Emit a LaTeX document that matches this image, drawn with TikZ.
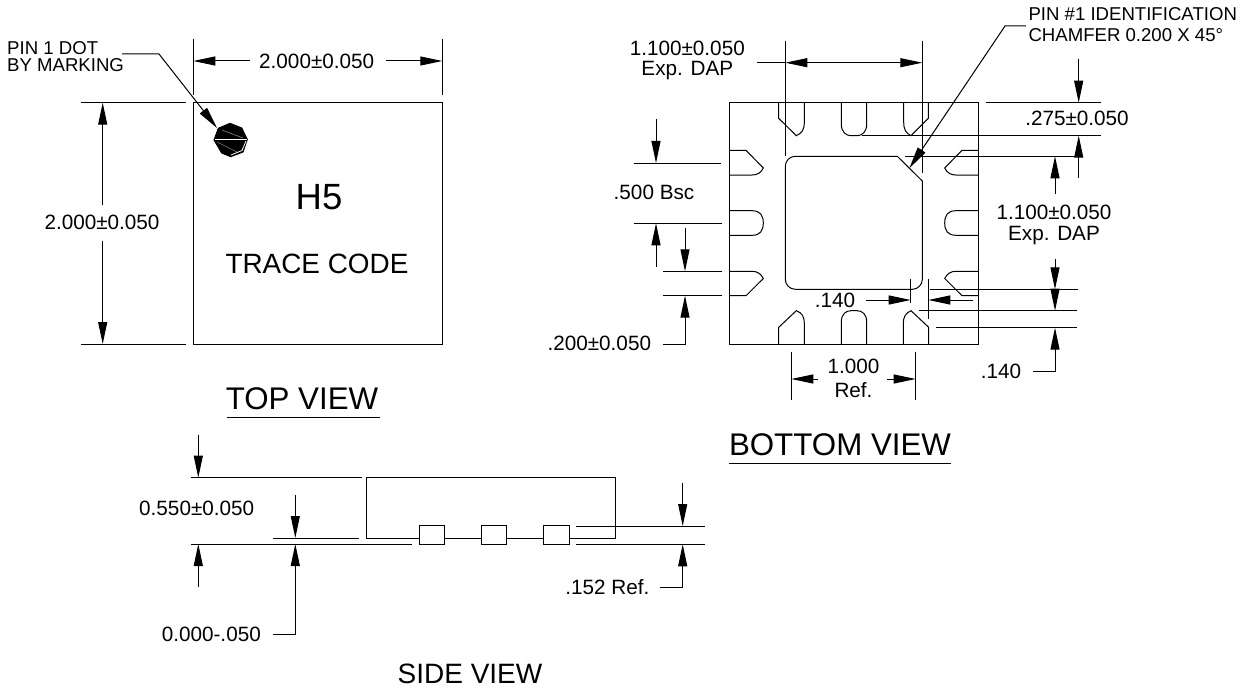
\documentclass[tikz,border=0pt]{standalone}
\usepackage{fontspec}
\setmainfont{Liberation Sans}
\usepackage{tikz}
\usetikzlibrary{arrows.meta}
\tikzstyle{outline}=[draw=black, line width=1pt, line join=miter]
\tikzstyle{dimline}=[draw=black, line width=1pt, >={Triangle[length=22pt, width=9pt]}]
\tikzstyle{dimtext}=[inner sep=0pt, font=\fontsize{20.7}{24}\selectfont, align=center]
\tikzstyle{notetext}=[inner sep=0pt, font=\fontsize{18.6}{17}\selectfont, align=left]
\tikzstyle{marktext}=[inner sep=0pt, font=\fontsize{27.9}{32}\selectfont]
\tikzstyle{viewtext}=[inner sep=0pt, font=\fontsize{31.3}{34}\selectfont]

\begin{document}
\begin{tikzpicture}[x=1pt, y=-1pt]
	\useasboundingbox (0, 0) rectangle (1250, 690);
	\begin{scope}
		\node (tophead) at (316.7, 61)[dimtext] {2.000±0.050};
		\node (topside) at (102, 222)[dimtext] {2.000±0.050};
		\node (pinone) at (7, 56.5)[notetext, anchor=west] {PIN 1 DOT\\BY MARKING};
		\node (mark) at (319, 197)[inner sep=0pt, font=\fontsize{36.5}{38}\selectfont] {H5};
		\node (trace) at (317, 264)[marktext] {TRACE CODE};
		\node (topview) at (302, 399)[viewtext] {TOP VIEW};
		\coordinate (pinend) at (122, 54);
		\coordinate (pinknee) at (159, 54);
		\coordinate (pintip) at (217, 128);
		\draw [outline] (193.3, 102.7) rectangle (442.3, 344);
		\draw [dimline] (193.3, 39) -- (193.3, 95);
		\draw [dimline] (442.3, 39) -- (442.3, 95);
		\draw [dimline, ->] (249.7, 61) -- (193.3, 61);
		\draw [dimline, ->] (386, 61) -- (442.3, 61);
		\draw [dimline] (81, 102.7) -- (185.5, 102.7);
		\draw [dimline] (81, 344) -- (185.5, 344);
		\draw [dimline, ->] (102.7, 204.5) -- (102.7, 102.7);
		\draw [dimline, ->] (102.7, 241) -- (102.7, 344);
		\draw [dimline, ->] (pinend) -- (pinknee) -- (pintip);
		\draw [outline, fill=black] (230, 123.3) -- (241.7, 128) -- (247.3, 139.3) -- (243, 152) -- (230.7, 156.7) -- (221.7, 153) -- (214, 140) -- (218.3, 128.3) -- cycle;
		\draw [white, line width=0.8pt] (214.5, 139.5) -- (247, 139.5);
		\draw [white, line width=0.8pt] (231, 155) -- (242, 150.5) -- (246, 141);
		\draw [white!70!black, line width=0.4pt] (222, 130) -- (243, 138);
		\draw [white!70!black, line width=0.4pt] (217, 142) -- (237, 152);
		\draw [outline] (226.7, 417.7) -- (380, 417.7);
	\end{scope}
	\begin{scope}
		\node (dapleft1) at (687.3, 48)[dimtext] {1.100±0.050};
		\node (dapleft2) at (687.3, 71)[dimtext] {Exp. DAP};
		\node (chamfer) at (1028.3, 24.5)[notetext, anchor=west, font=\fontsize{18.6}{21}\selectfont] {PIN \#1 IDENTIFICATION\\CHAMFER 0.200 X 45°};
		\node (pitch) at (654, 192.7)[dimtext] {.500 Bsc};
		\node (padwide) at (599.3, 343.5)[dimtext] {.200±0.050};
		\node (padlong) at (1077, 118)[dimtext] {.275±0.050};
		\node (dapright1) at (1054, 212)[dimtext] {1.100±0.050};
		\node (dapright2) at (1054, 236)[dimtext] {Exp. DAP};
		\node (gapin) at (835, 300)[dimtext] {.140};
		\node (gapout) at (1001, 371)[dimtext] {.140};
		\node (ref1) at (853.5, 366)[dimtext] {1.000};
		\node (ref2) at (853.5, 390)[dimtext] {Ref.};
		\node (botview) at (840, 445)[viewtext] {BOTTOM VIEW};
		\coordinate (chamend) at (1026, 26);
		\coordinate (chamknee) at (1005, 26);
		\coordinate (chamtip) at (909.3, 168.3);
		\draw [outline] (729.7, 102.7) rectangle (978.3, 344);
		\draw [outline] (778.7, 102.7) -- (778.7, 118.3) -- (796.3, 135.7) .. controls (802, 133) and (804.3, 130) .. (804.3, 122) -- (804.3, 102.7);
		\draw [outline] (841.3, 102.7) -- (841.3, 124) .. controls (841.3, 132) and (846, 135.7) .. (851, 135.7) -- (857, 135.7) .. controls (862, 135.7) and (866.7, 132) .. (866.7, 124) -- (866.7, 102.7);
		\draw [outline] (928.3, 102.7) -- (928.3, 118.3) -- (911, 135.7) .. controls (906, 133) and (903.7, 130) .. (903.7, 122) -- (903.7, 102.7);
		\draw [outline] (778.7, 344) -- (778.7, 327.3) -- (796.3, 310.7) .. controls (802, 313) and (804.3, 316) .. (804.3, 324) -- (804.3, 344);
		\draw [outline] (841.3, 344) -- (841.3, 322) .. controls (841.3, 314) and (846, 310.7) .. (851, 310.7) -- (857, 310.7) .. controls (862, 310.7) and (866.7, 314) .. (866.7, 322) -- (866.7, 344);
		\draw [outline] (928.7, 344) -- (928.7, 327.3) -- (911, 310.7) .. controls (906, 313) and (903.3, 316) .. (903.3, 324) -- (903.3, 344);
		\draw [outline] (729.7, 150.3) -- (746, 150.3) -- (763.3, 168) .. controls (761, 173) and (757, 175) .. (752, 175) -- (729.7, 175);
		\draw [outline] (729.7, 210.7) -- (752, 210.7) .. controls (760, 210.7) and (763.3, 215) .. (763.3, 223) .. controls (763.3, 231) and (760, 235.3) .. (752, 235.3) -- (729.7, 235.3);
		\draw [outline] (729.7, 295.7) -- (746, 295.7) -- (763.3, 278.5) .. controls (761, 273.5) and (757, 271.3) .. (752, 271.3) -- (729.7, 271.3);
		\draw [outline] (978.3, 150.3) -- (962, 150.3) -- (944.7, 168) .. controls (947, 173) and (951, 175) .. (956, 175) -- (978.3, 175);
		\draw [outline] (978.3, 210.7) -- (956, 210.7) .. controls (948, 210.7) and (944.7, 215) .. (944.7, 223) .. controls (944.7, 231) and (948, 235.3) .. (956, 235.3) -- (978.3, 235.3);
		\draw [outline] (978.3, 295.7) -- (962, 295.7) -- (944.7, 278.5) .. controls (947, 273.5) and (951, 271.3) .. (956, 271.3) -- (978.3, 271.3);
		\draw [outline, rounded corners=10pt] (785.3, 225) -- (785.3, 156.3) -- (840, 156.3) [sharp corners] -- (897.3, 156.3) -- (922.3, 181) [rounded corners=10pt] -- (922.3, 289.3) -- (785.3, 289.3) -- (785.3, 225);
		\draw [dimline] (785.3, 41) -- (785.3, 156.3);
		\draw [dimline] (922.3, 41) -- (922.3, 173);
		\draw [dimline, ->] (807.7, 62.7) -- (785.3, 62.7);
		\draw [dimline] (756.7, 62.7) -- (785.3, 62.7);
		\draw [dimline, ->] (807, 62.7) -- (922.3, 62.7);
		\draw [dimline, ->] (chamend) -- (chamknee) -- (chamtip);
		\draw [dimline] (986, 102.7) -- (1101, 102.7);
		\draw [dimline] (861.7, 135.7) -- (1101, 135.7);
		\draw [dimline] (905, 156.3) -- (1082.7, 156.3);
		\draw [dimline, ->] (1078.7, 59.3) -- (1078.7, 102.7);
		\draw [dimline, ->] (1078.7, 178.3) -- (1078.7, 135.7);
		\draw [dimline, ->] (1055, 194) -- (1055, 156.3);
		\draw [dimline, ->] (1055, 259.3) -- (1055, 289.3);
		\draw [dimline, ->] (1055, 289.3) -- (1055, 310.7);
		\draw [dimline, ->] (1033.3, 371) -- (1055, 371) -- (1055, 327.7);
		\draw [dimline] (930, 289.3) -- (1077.7, 289.3);
		\draw [dimline] (918.7, 310.7) -- (1077.3, 310.7);
		\draw [dimline] (936, 327.7) -- (1077.3, 327.7);
		\draw [dimline] (910.7, 279.3) -- (910.7, 303);
		\draw [dimline] (928.3, 279.3) -- (928.3, 319.3);
		\draw [dimline, ->] (866, 300) -- (910.7, 300);
		\draw [dimline, ->] (972.7, 300) -- (928.3, 300);
		\draw [dimline] (791.3, 351.7) -- (791.3, 400);
		\draw [dimline] (915.7, 351.7) -- (915.7, 400);
		\draw [dimline, ->] (817.7, 379) -- (791.3, 379);
		\draw [dimline, ->] (887, 379) -- (915.7, 379);
		\draw [dimline] (633.7, 163) -- (721.3, 163);
		\draw [dimline] (633.7, 223.3) -- (721.7, 223.3);
		\draw [dimline, ->] (656, 119.3) -- (656, 163);
		\draw [dimline, ->] (656, 266.7) -- (656, 223.3);
		\draw [dimline] (663, 271.3) -- (721.7, 271.3);
		\draw [dimline] (663, 295.7) -- (721.7, 295.7);
		\draw [dimline, ->] (685, 228.3) -- (685, 271.3);
		\draw [dimline, ->] (663, 344) -- (685, 344) -- (685, 295.7);
		\draw [outline] (729, 463.7) -- (951, 463.7);
	\end{scope}
	\begin{scope}
		\node (height) at (196.7, 508.7)[dimtext] {0.550±0.050};
		\node (standoff) at (211.3, 634)[dimtext] {0.000-.050};
		\node (leadref) at (607.3, 587)[dimtext] {.152 Ref.};
		\node (sideview) at (470, 674)[inner sep=0pt, font=\fontsize{28}{30}\selectfont] {SIDE VIEW};
		\draw [outline] (419.3, 538) -- (366.7, 538) -- (366.7, 477.7) -- (615, 477.7) -- (615, 538) -- (569, 538);
		\draw [outline] (444.7, 538) -- (481.3, 538);
		\draw [outline] (506.7, 538) -- (543.7, 538);
		\draw [outline] (419.3, 525.7) rectangle (444.7, 544.3);
		\draw [outline] (481.3, 525.7) rectangle (506.7, 544.3);
		\draw [outline] (543.7, 525.7) rectangle (569, 544.3);
		\draw [dimline] (190.7, 477.7) -- (361.7, 477.7);
		\draw [dimline] (190.7, 544) -- (411.7, 544);
		\draw [dimline] (273.3, 538) -- (358.7, 538);
		\draw [dimline, ->] (198.3, 434.7) -- (198.3, 477.7);
		\draw [dimline, ->] (198.3, 587.3) -- (198.3, 544);
		\draw [dimline, ->] (295.3, 495) -- (295.3, 538);
		\draw [dimline, ->] (273.3, 634.7) -- (295.3, 634.7) -- (295.3, 544);
		\draw [dimline] (576, 526) -- (705, 526);
		\draw [dimline] (576, 544.3) -- (705, 544.3);
		\draw [dimline, ->] (682.7, 482.7) -- (682.7, 526);
		\draw [dimline, ->] (660, 587.3) -- (682.7, 587.3) -- (682.7, 544.3);
	\end{scope}
\end{tikzpicture}
\end{document}
